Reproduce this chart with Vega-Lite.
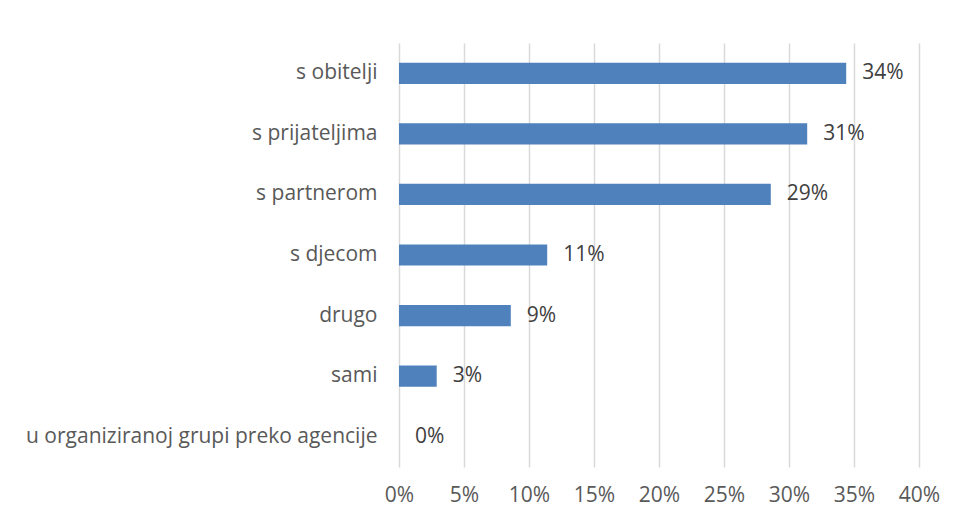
{
  "$schema": "https://vega.github.io/schema/vega-lite/v6.json",
  "autosize": "none",
  "width": 520,
  "height": 424,
  "padding": {"left": 399, "top": 43, "right": 38, "bottom": 53},
  "background": "white",
  "config": {
    "view": {"stroke": null},
    "font": "Open Sans",
    "axis": {"labelFont": "Open Sans", "labelColor": "#595959", "labelFontSize": 21, "domain": false, "ticks": false, "title": null, "labelOverlap": false}
  },
  "data": {
    "values": [
      {"category": "s obitelji", "value": 0.344},
      {"category": "s prijateljima", "value": 0.314},
      {"category": "s partnerom", "value": 0.286},
      {"category": "s djecom", "value": 0.114},
      {"category": "drugo", "value": 0.086},
      {"category": "sami", "value": 0.029},
      {"category": "u organiziranoj grupi preko agencije", "value": 0}
    ]
  },
  "encoding": {
    "y": {
      "field": "category", "type": "nominal", "sort": null,
      "scale": {"paddingInner": 0.65, "paddingOuter": 0.325},
      "axis": {"grid": false, "labelPadding": 22, "labelLimit": 400}
    },
    "x": {
      "field": "value", "type": "quantitative",
      "scale": {"domain": [0, 0.4], "nice": false},
      "axis": {"format": ".0%", "values": [0, 0.05, 0.1, 0.15, 0.2, 0.25, 0.3, 0.35, 0.4], "grid": true, "gridColor": "#d9d9d9", "gridWidth": 1.5, "labelPadding": 17, "labelFlush": false}
    }
  },
  "layer": [
    {"mark": {"type": "bar", "color": "#4f81bd"}},
    {
      "mark": {"type": "text", "align": "left", "dx": 16, "fontSize": 21, "font": "Open Sans", "color": "#404040"},
      "encoding": {"text": {"field": "value", "type": "quantitative", "format": ".0%"}}
    }
  ]
}
